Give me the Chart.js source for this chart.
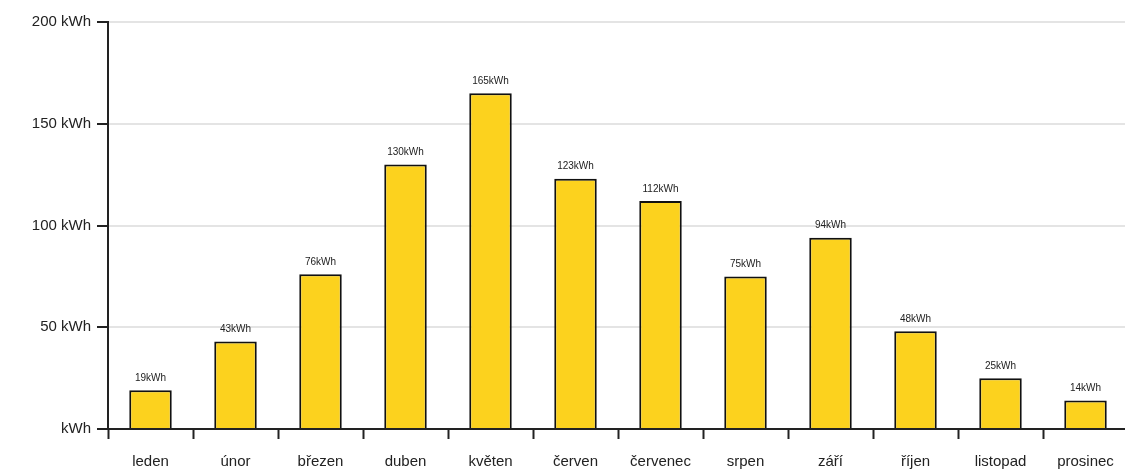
<!DOCTYPE html>
<html>
<head>
<meta charset="utf-8">
<script src="https://cdn.jsdelivr.net/npm/chart.js@4/dist/chart.umd.min.js"></script>
<style>
  html, body { margin: 0; padding: 0; background: #fff; overflow: hidden; }
  #wrap { width: 1128px; height: 470px; }
</style>
</head>
<body>
<div id="wrap"><canvas id="energyChart" width="1128" height="470"></canvas></div>
<script>
  const months = [`leden`, `únor`, `březen`, `duben`, `květen`, `červen`, `červenec`, `srpen`, `září`, `říjen`, `listopad`, `prosinec`];
  const energy = [19, 43, 76, 130, 165, 123, 112, 75, 94, 48, 25, 14];
  const unit = `kWh`;

  // value labels above each bar
  const barLabels = {
    id: `barLabels`,
    afterDatasetsDraw(chart) {
      const ctx = chart.ctx;
      const meta = chart.getDatasetMeta(0);
      ctx.save();
      ctx.font = `10px "Liberation Sans", Arial, sans-serif`;
      ctx.fillStyle = `#222`;
      ctx.textAlign = `center`;
      ctx.textBaseline = `bottom`;
      meta.data.forEach((bar, i) => {
        ctx.fillText(`${energy[i]}${unit}`, bar.x, bar.y - 7);
      });
      ctx.restore();
    },
  };

  const cfg = {
    type: `bar`,
    data: {
      labels: months,
      datasets: [
        {
          data: energy,
          backgroundColor: `rgb(252, 210, 30)`,
          borderColor: `#111`,
          borderWidth: 2,
          borderSkipped: `bottom`,
          barPercentage: 0.5,
          categoryPercentage: 1,
        },
      ],
    },
    options: {
      responsive: false,
      animation: false,
      layout: { padding: { top: 22, right: 0, left: 0, bottom: 0 } },
      plugins: {
        legend: { display: false },
        tooltip: { enabled: false },
      },
      scales: {
        x: {
          grid: {
            drawOnChartArea: false,
            tickColor: `#222`,
            tickLength: 10,
            tickWidth: 2,
            offset: true,
          },
          border: { color: `#222`, width: 2 },
          ticks: {
            color: `#222`,
            padding: 14,
            font: { size: 15, family: `"Liberation Sans", Arial, sans-serif` },
            maxRotation: 0,
            autoSkip: false,
          },
          afterFit: (scale) => {
            scale.height = 41;
          },
        },
        y: {
          min: 0,
          max: 200,
          ticks: {
            stepSize: 50,
            color: `#222`,
            padding: 6,
            font: { size: 15, family: `"Liberation Sans", Arial, sans-serif` },
            callback: (v) => (v === 0 ? unit : `${v} ${unit}`),
          },
          grid: {
            color: `#e4e4e4`,
            lineWidth: 2,
            tickColor: `#222`,
            tickLength: 11,
            tickWidth: 2,
          },
          border: { color: `#222`, width: 2 },
          afterFit: (scale) => {
            scale.width = 108;
          },
        },
      },
    },
    plugins: [barLabels],
  };

  const chart = new Chart(document.getElementById(`energyChart`), cfg);
</script>
</body>
</html>
